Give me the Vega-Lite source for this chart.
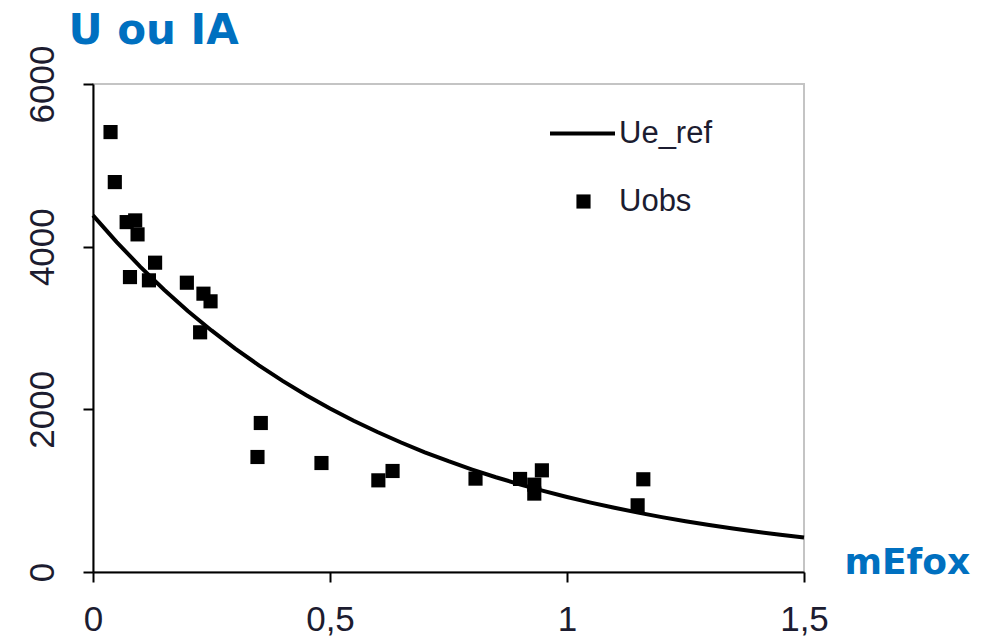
{
  "$schema": "https://vega.github.io/schema/vega-lite/v6.json",
  "width": 711,
  "height": 488,
  "autosize": {"type": "none"},
  "padding": {"left": 93, "top": 84, "right": 199, "bottom": 64},
  "background": "white",
  "config": {
    "view": {"stroke": "#c4c4c4", "strokeWidth": 2},
    "axis": {
      "grid": false,
      "domainColor": "black",
      "domainWidth": 2,
      "tickColor": "black",
      "tickWidth": 2,
      "tickSize": 10,
      "labelFont": "Liberation Sans",
      "labelFontSize": 35,
      "labelColor": "#1c1c30",
      "labelOverlap": false,
      "labelFlush": false,
      "titleFont": "DejaVu Sans",
      "titleFontWeight": "bold",
      "titleColor": "#0070C0",
      "titleAlign": "left",
      "titleBaseline": "alphabetic",
      "titleAngle": 0
    },
    "legend": {
      "orient": "none",
      "title": null,
      "padding": 0,
      "labelFont": "Liberation Sans",
      "labelFontSize": 31,
      "labelColor": "#1c1c30"
    }
  },
  "datasets": {
    "ref": [
      {"mEfox": 0.0, "U": 4385, "serie": "Ue_ref"}, {"mEfox": 0.05, "U": 4056, "serie": "Ue_ref"},
      {"mEfox": 0.1, "U": 3752, "serie": "Ue_ref"}, {"mEfox": 0.15, "U": 3471, "serie": "Ue_ref"},
      {"mEfox": 0.2, "U": 3210, "serie": "Ue_ref"}, {"mEfox": 0.25, "U": 2970, "serie": "Ue_ref"},
      {"mEfox": 0.3, "U": 2747, "serie": "Ue_ref"}, {"mEfox": 0.35, "U": 2541, "serie": "Ue_ref"},
      {"mEfox": 0.4, "U": 2350, "serie": "Ue_ref"}, {"mEfox": 0.45, "U": 2174, "serie": "Ue_ref"},
      {"mEfox": 0.5, "U": 2011, "serie": "Ue_ref"}, {"mEfox": 0.55, "U": 1860, "serie": "Ue_ref"},
      {"mEfox": 0.6, "U": 1721, "serie": "Ue_ref"}, {"mEfox": 0.65, "U": 1592, "serie": "Ue_ref"},
      {"mEfox": 0.7, "U": 1472, "serie": "Ue_ref"}, {"mEfox": 0.75, "U": 1362, "serie": "Ue_ref"},
      {"mEfox": 0.8, "U": 1260, "serie": "Ue_ref"}, {"mEfox": 0.85, "U": 1165, "serie": "Ue_ref"},
      {"mEfox": 0.9, "U": 1078, "serie": "Ue_ref"}, {"mEfox": 0.95, "U": 997, "serie": "Ue_ref"},
      {"mEfox": 1.0, "U": 922, "serie": "Ue_ref"}, {"mEfox": 1.05, "U": 853, "serie": "Ue_ref"},
      {"mEfox": 1.1, "U": 789, "serie": "Ue_ref"}, {"mEfox": 1.15, "U": 730, "serie": "Ue_ref"},
      {"mEfox": 1.2, "U": 675, "serie": "Ue_ref"}, {"mEfox": 1.25, "U": 625, "serie": "Ue_ref"},
      {"mEfox": 1.3, "U": 578, "serie": "Ue_ref"}, {"mEfox": 1.35, "U": 535, "serie": "Ue_ref"},
      {"mEfox": 1.4, "U": 494, "serie": "Ue_ref"}, {"mEfox": 1.45, "U": 457, "serie": "Ue_ref"},
      {"mEfox": 1.5, "U": 423, "serie": "Ue_ref"}
    ],
    "obs": [
      {"mEfox": 0.037, "U": 5409, "serie": "Uobs"},
      {"mEfox": 0.046, "U": 4794, "serie": "Uobs"},
      {"mEfox": 0.071, "U": 4302, "serie": "Uobs"},
      {"mEfox": 0.089, "U": 4323, "serie": "Uobs"},
      {"mEfox": 0.094, "U": 4151, "serie": "Uobs"},
      {"mEfox": 0.078, "U": 3626, "serie": "Uobs"},
      {"mEfox": 0.131, "U": 3803, "serie": "Uobs"},
      {"mEfox": 0.118, "U": 3586, "serie": "Uobs"},
      {"mEfox": 0.198, "U": 3557, "serie": "Uobs"},
      {"mEfox": 0.233, "U": 3422, "serie": "Uobs"},
      {"mEfox": 0.248, "U": 3328, "serie": "Uobs"},
      {"mEfox": 0.226, "U": 2947, "serie": "Uobs"},
      {"mEfox": 0.354, "U": 1832, "serie": "Uobs"},
      {"mEfox": 0.347, "U": 1414, "serie": "Uobs"},
      {"mEfox": 0.482, "U": 1340, "serie": "Uobs"},
      {"mEfox": 0.602, "U": 1127, "serie": "Uobs"},
      {"mEfox": 0.632, "U": 1242, "serie": "Uobs"},
      {"mEfox": 0.807, "U": 1148, "serie": "Uobs"},
      {"mEfox": 0.901, "U": 1144, "serie": "Uobs"},
      {"mEfox": 0.947, "U": 1250, "serie": "Uobs"},
      {"mEfox": 0.931, "U": 1074, "serie": "Uobs"},
      {"mEfox": 0.931, "U": 964, "serie": "Uobs"},
      {"mEfox": 1.161, "U": 1140, "serie": "Uobs"},
      {"mEfox": 1.149, "U": 820, "serie": "Uobs"}
    ]
  },
  "layer": [
    {
      "data": {"name": "ref"},
      "mark": {"type": "line", "strokeWidth": 4},
      "encoding": {
        "x": {
          "field": "mEfox",
          "type": "quantitative",
          "scale": {"domain": [0, 1.5], "nice": false},
          "axis": {
            "values": [0, 0.5, 1, 1.5],
            "labelExpr": "replace(toString(datum.value), '.', ',')",
            "labelBaseline": "alphabetic",
            "labelPadding": 48,
            "title": "mEfox",
            "titleFontSize": 36,
            "titleX": 751,
            "titleY": 1
          }
        },
        "y": {
          "field": "U",
          "type": "quantitative",
          "scale": {"domain": [0, 6000], "nice": false},
          "axis": {
            "values": [0, 2000, 4000, 6000],
            "format": "d",
            "labelAngle": 270,
            "labelAlign": "center",
            "labelBaseline": "alphabetic",
            "labelPadding": 30,
            "title": "U ou IA",
            "titleFontSize": 42,
            "titleX": -25,
            "titleY": -41
          }
        },
        "color": {
          "field": "serie",
          "type": "nominal",
          "scale": {"domain": ["Ue_ref"], "range": ["black"]},
          "legend": {
            "legendX": 455,
            "legendY": 15,
            "symbolType": "stroke",
            "symbolSize": 4225,
            "symbolStrokeWidth": 4,
            "labelOffset": 2
          }
        }
      }
    },
    {
      "data": {"name": "obs"},
      "mark": {"type": "point", "filled": true, "size": 200, "opacity": 1, "color": "black"},
      "encoding": {
        "x": {"field": "mEfox", "type": "quantitative"},
        "y": {"field": "U", "type": "quantitative"},
        "shape": {
          "field": "serie",
          "type": "nominal",
          "scale": {"domain": ["Uobs"], "range": ["square"]},
          "legend": {
            "legendX": 475,
            "legendY": 102,
            "symbolSize": 200,
            "symbolFillColor": "black",
            "symbolOpacity": 1,
            "labelOffset": 20
          }
        }
      }
    }
  ]
}
